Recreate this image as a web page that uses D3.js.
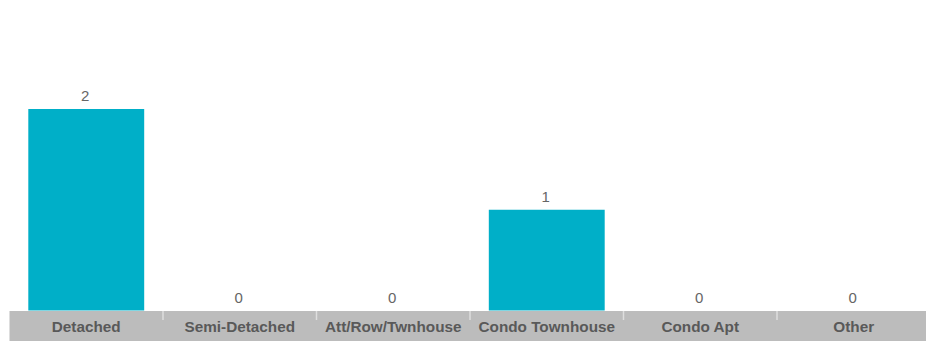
<!DOCTYPE html>
<html><head><meta charset="utf-8">
<script src="https://cdn.jsdelivr.net/npm/d3@7"></script>
<style>body{margin:0;background:#fff;overflow:hidden}</style>
</head><body>
<svg id="c" width="926" height="341"></svg>
<script>
const categories = ["Detached","Semi-Detached","Att/Row/Twnhouse","Condo Townhouse","Condo Apt","Other"];
const values = [2,0,0,1,0,0];

const svg = d3.select("#c");
const x = d3.scaleBand().domain(categories).range([9.5, 930.5]).paddingInner(0.245).paddingOuter(0.1225);
const y = d3.scaleLinear().domain([0, 2]).range([310.5, 109]);

svg.append("rect").attr("x", 9.5).attr("y", 311).attr("width", 926).attr("height", 30).attr("fill", "#bcbcbc");

const step = x.step();
const left = 9.5;
categories.slice(1).forEach((c, i) => {
  const xx = left + step * (i + 1);
  svg.append("line").attr("x1", xx).attr("x2", xx).attr("y1", 311).attr("y2", 320)
    .attr("stroke", "#dedede").attr("stroke-width", 1.5);
});

svg.selectAll("rect.bar").data(values).enter().append("rect").attr("class","bar")
  .attr("x", (d,i) => x(categories[i]))
  .attr("width", x.bandwidth())
  .attr("y", d => y(d))
  .attr("height", d => y(0) - y(d))
  .attr("fill", "#00afc8");

svg.selectAll("text.val").data(values).enter().append("text").attr("class","val")
  .attr("x", (d,i) => x(categories[i]) + x.bandwidth()/2 - 1)
  .attr("y", d => y(d) - 8)
  .attr("text-anchor", "middle")
  .style("font-family", "'Liberation Sans', Arial, sans-serif")
  .attr("font-size", 15)
  .attr("fill", "#666")
  .text(d => d);

svg.selectAll("text.cat").data(categories).enter().append("text").attr("class","cat")
  .attr("x", d => x(d) + x.bandwidth()/2)
  .attr("y", 332)
  .attr("text-anchor", "middle")
  .style("font-family", "'Liberation Sans', Arial, sans-serif")
  .attr("font-size", 15.3)
  .attr("font-weight", "bold")
  .attr("fill", "#595959")
  .text(d => d);
</script>
</body></html>
